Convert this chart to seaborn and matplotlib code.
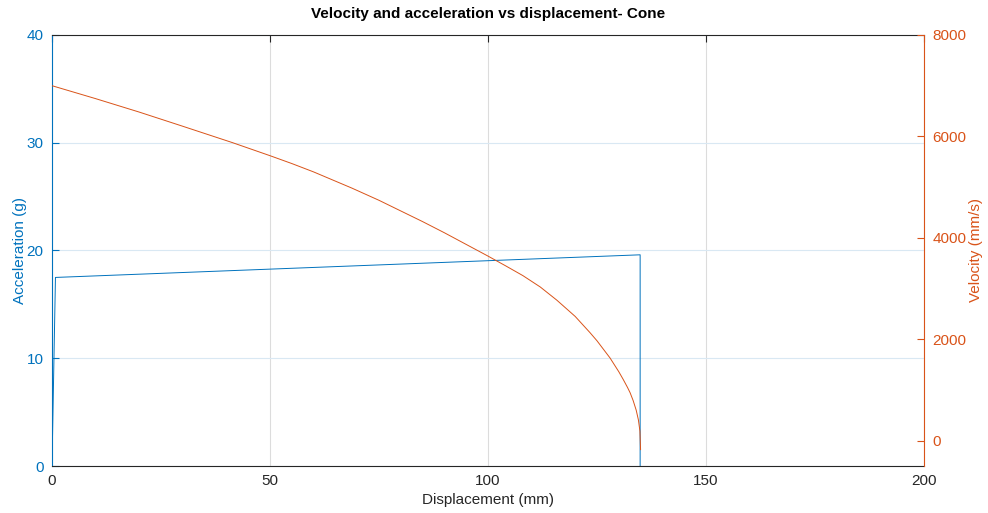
import matplotlib
matplotlib.use("Agg")
import matplotlib.pyplot as plt
import pandas as pd
import seaborn as sns

# Acceleration profile (g) against displacement (mm)
acc_disp = [0.0, 0.8, 134.9, 134.9]
acc_g = [0.0, 17.5, 19.6, 0.0]

# Velocity profile (mm/s) against displacement (mm)
vel_disp = [0, 10, 20, 30, 41.3, 50, 55, 60, 68.8, 75, 85, 90, 100, 104,
            108, 112, 115.8, 120, 123.4, 125, 128, 130, 131, 132, 132.6,
            133.3, 134.0, 134.5, 134.85, 135.0]
vel_mms = [7000, 6745, 6480, 6200, 5880, 5620, 5465, 5300, 4980, 4740, 4320,
           4100, 3640, 3450, 3255, 3030, 2770, 2450, 2130, 1970, 1630, 1360,
           1210, 1050, 945, 790, 600, 410, 190, -180]

x_ticks = [0, 50, 100, 150, 200]
acc_ticks = [0, 10, 20, 30, 40]
vel_ticks = [0, 2000, 4000, 6000, 8000]

BLUE = "#0072BD"
ORANGE = "#D95319"
DARK = "#262626"

sns.set_style("white")
plt.rcParams["font.family"] = ["Liberation Sans", "DejaVu Sans"]

acc_df = pd.DataFrame({"Displacement": acc_disp, "Acceleration": acc_g})
vel_df = pd.DataFrame({"Displacement": vel_disp, "Velocity": vel_mms})

fig = plt.figure(figsize=(9.88, 5.13), dpi=100)
ax = fig.add_axes([0.0526, 0.0916, 0.8826, 0.8402])
ax2 = ax.twinx()

sns.lineplot(data=acc_df, x="Displacement", y="Acceleration", ax=ax,
             sort=False, estimator=None, color=BLUE, linewidth=0.7)
sns.lineplot(data=vel_df, x="Displacement", y="Velocity", ax=ax2,
             sort=False, estimator=None, color=ORANGE, linewidth=0.7)

ax.set_xlim(0, 200)
ax.set_ylim(0, 40)
ax2.set_ylim(-500, 8000)
ax.set_xticks(x_ticks)
ax.set_yticks(acc_ticks)
ax2.set_yticks(vel_ticks)

# Grid: grey verticals, blue-tinted horizontals
ax.grid(True, axis="x", color="#dcdcdc", linewidth=0.8)
ax.grid(True, axis="y", color="#d9e8f3", linewidth=0.8)
ax.set_axisbelow(True)
ax2.grid(False)

for side in ["top", "bottom"]:
    ax.spines[side].set_color(DARK)
    ax.spines[side].set_linewidth(0.8)
ax.spines["left"].set_color(BLUE)
ax.spines["left"].set_linewidth(0.8)
ax.spines["right"].set_visible(False)
for side in ["top", "bottom", "left"]:
    ax2.spines[side].set_visible(False)
ax2.spines["right"].set_color(ORANGE)
ax2.spines["right"].set_linewidth(0.8)

ax.tick_params(axis="x", direction="in", top=True, length=5, width=0.8,
               colors=DARK, labelsize=11, pad=6)
ax.tick_params(axis="y", direction="in", length=5, width=0.8,
               colors=BLUE, labelsize=11, pad=6)
ax2.tick_params(axis="y", direction="in", length=5, width=0.8,
                colors=ORANGE, labelsize=11, pad=6)

ax.set_xlabel("Displacement (mm)", fontsize=11, color=DARK, labelpad=3)
ax.set_ylabel("Acceleration (g)", fontsize=11, color=BLUE, labelpad=0)
ax2.set_ylabel("Velocity (mm/s)", fontsize=11, color=ORANGE, labelpad=2)
ax.set_title("Velocity and acceleration vs displacement- Cone",
             fontsize=11, fontweight="bold", color="black", pad=12)

fig.savefig("out.png", dpi=100)
